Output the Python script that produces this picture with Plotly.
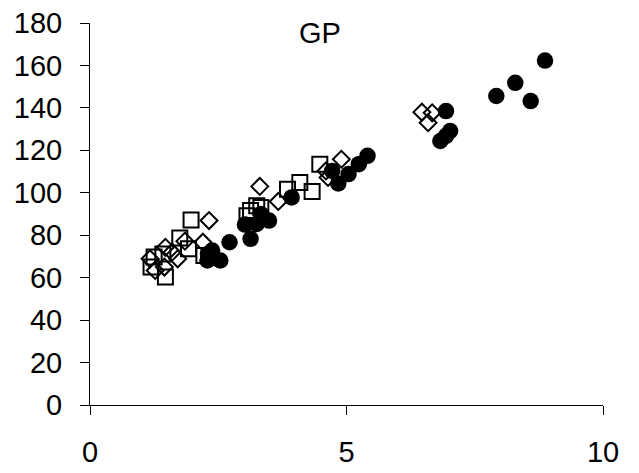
import plotly.graph_objects as go

# Filled circles
circ_x = [8.87, 8.29, 7.92, 8.59, 6.94, 7.02, 6.94, 6.83, 5.41, 5.24, 5.04, 4.84, 4.72,
          3.93, 3.49, 3.25, 3.02, 3.13, 2.72, 2.54, 2.30, 2.29, 2.38, 3.33]
circ_y = [162.3, 151.8, 145.6, 143.2, 138.5, 129.1, 126.8, 124.4, 117.4, 113.5, 108.8, 104.4, 110.3,
          97.8, 86.9, 85.3, 85.0, 78.3, 76.7, 68.1, 71.2, 68.1, 72.8, 90.0]

# Open squares
sq_x = [1.97, 1.75, 1.92, 1.47, 1.19, 1.25, 1.42, 4.09, 3.85, 4.33, 4.48, 3.25, 3.13, 3.33, 3.06, 2.22]
sq_y = [87.2, 78.7, 73.6, 60.3, 65.0, 69.7, 71.2, 104.9, 101.7, 100.6, 113.5, 93.9, 91.6, 93.1, 89.2, 70.4]

# Open diamonds
dm_x = [2.32, 3.31, 4.90, 4.60, 4.64, 3.67, 6.47, 6.67, 6.59, 2.20, 1.85, 1.71, 1.47, 1.27, 1.17, 1.45, 1.60]
dm_y = [86.9, 103.0, 115.8, 110.3, 107.2, 95.9, 138.0, 137.7, 133.0, 76.7, 77.2, 68.9, 74.3, 63.4, 68.9, 65.0, 72.0]

x_ticks = [0, 5, 10]
y_ticks = [0, 20, 40, 60, 80, 100, 120, 140, 160, 180]

fig = go.Figure()
fig.add_trace(go.Scatter(x=sq_x, y=sq_y, mode="markers", cliponaxis=False,
                         marker=dict(symbol="square-open", size=15, color="black",
                                     line=dict(width=2, color="black"))))
fig.add_trace(go.Scatter(x=dm_x, y=dm_y, mode="markers", cliponaxis=False,
                         marker=dict(symbol="diamond-open", size=13, color="black",
                                     line=dict(width=2, color="black"))))
fig.add_trace(go.Scatter(x=circ_x, y=circ_y, mode="markers", cliponaxis=False,
                         marker=dict(symbol="circle", size=16.5, color="black")))

fig.update_layout(
    width=639, height=473,
    margin=dict(l=90, r=36, t=23, b=68, autoexpand=False),
    paper_bgcolor="white", plot_bgcolor="white",
    showlegend=False,
    font=dict(family="Liberation Sans, Arial, sans-serif", size=29, color="black"),
    annotations=[dict(text="GP", x=0.448, y=0.973, xref="paper", yref="paper",
                      xanchor="center", yanchor="middle",
                      showarrow=False, font=dict(size=29, color="black"))],
)
fig.update_xaxes(range=[0, 10], tickvals=x_ticks, showgrid=False, zeroline=False,
                 showline=True, linecolor="black", linewidth=1, automargin=False,
                 ticks="outside", ticklen=9, tickcolor="black", tickwidth=1,
                 ticklabelstandoff=12)
fig.update_yaxes(range=[0, 180], tickvals=y_ticks, showgrid=False, zeroline=False,
                 showline=True, linecolor="black", linewidth=1, automargin=False,
                 ticks="outside", ticklen=9, tickcolor="black", tickwidth=1,
                 ticklabelstandoff=12)

fig.write_html("out.html", config={"displayModeBar": False},
               post_script="document.body.style.margin='0';")
